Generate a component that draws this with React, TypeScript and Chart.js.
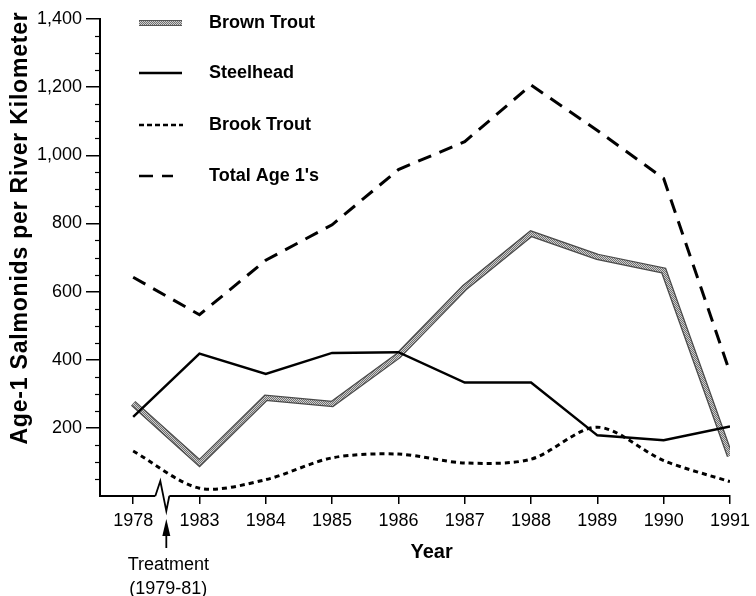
import React, { useEffect, useRef } from 'react';
import { Chart, registerables } from 'chart.js';

Chart.register(...registerables);

const years = ['1978', '1983', '1984', '1985', '1986', '1987', '1988', '1989', '1990', '1991'];
const brownTrout = [272, 97, 288, 270, 412, 612, 770, 702, 662, 118];
const steelhead = [232, 418, 358, 420, 422, 333, 333, 178, 164, 204];
const brookTrout = [132, 23, 48, 112, 123, 97, 108, 202, 104, 42];
const totalAge1 = [642, 532, 692, 796, 958, 1040, 1206, 1073, 932, 362];
const yTickValues = [200, 400, 600, 800, 1000, 1200, 1400];
const yMinorStep = 50;
const legendLabels = ['Brown Trout', 'Steelhead', 'Brook Trout', "Total Age 1's"];

const FONT = '"Liberation Sans", Arial, Helvetica, sans-serif';

function makePattern(light: string, dark: string): CanvasPattern | string {
  const pc = document.createElement('canvas');
  pc.width = 2;
  pc.height = 2;
  const c = pc.getContext('2d');
  if (!c) return '#999';
  c.fillStyle = light;
  c.fillRect(0, 0, 2, 2);
  c.fillStyle = dark;
  c.fillRect(0, 0, 1, 1);
  c.fillRect(1, 1, 1, 1);
  const ctx = document.createElement('canvas').getContext('2d');
  const p = ctx ? ctx.createPattern(pc, 'repeat') : null;
  return p || '#999';
}

export default function App() {
  const ref = useRef<HTMLCanvasElement | null>(null);

  useEffect(() => {
    if (!ref.current) return;
    const pattern = makePattern('#cfcfcf', '#6f6f6f');
    const toPts = (arr: number[]) => arr.map((v, i) => ({ x: i, y: v }));

    const decor = {
      id: 'decor',
      afterDraw(chart: any) {
        const { ctx, chartArea } = chart;
        const xs = chart.scales.x;
        const ys = chart.scales.y;
        ctx.save();
        // minor y ticks
        ctx.strokeStyle = '#000';
        ctx.lineWidth = 1.2;
        for (let v = yMinorStep; v < 1400; v += yMinorStep) {
          if (yTickValues.includes(v)) continue;
          const py = Math.round(ys.getPixelForValue(v)) + 0.5;
          ctx.beginPath();
          ctx.moveTo(chartArea.left - 5, py);
          ctx.lineTo(chartArea.left, py);
          ctx.stroke();
        }
        // axis break
        const bx = xs.getPixelForValue(0.5);
        const by = chartArea.bottom;
        ctx.fillStyle = '#fff';
        ctx.fillRect(bx - 11, by - 2, 14, 4);
        ctx.beginPath();
        ctx.lineWidth = 1.8;
        ctx.moveTo(bx - 11, by);
        ctx.lineTo(bx - 6, by - 15);
        ctx.lineTo(bx, by + 15);
        ctx.lineTo(bx + 3, by);
        ctx.stroke();
        // arrow
        ctx.beginPath();
        ctx.lineWidth = 1.8;
        ctx.moveTo(bx, by + 36);
        ctx.lineTo(bx, by + 52);
        ctx.stroke();
        ctx.beginPath();
        ctx.fillStyle = '#000';
        ctx.moveTo(bx, by + 23);
        ctx.lineTo(bx - 4, by + 40);
        ctx.lineTo(bx + 4, by + 40);
        ctx.closePath();
        ctx.fill();
        // treatment text
        ctx.fillStyle = '#000';
        ctx.textAlign = 'center';
        ctx.textBaseline = 'alphabetic';
        ctx.font = `18px ${FONT}`;
        ctx.fillText('Treatment', bx + 2, by + 74);
        ctx.fillText('(1979-81)', bx + 2, by + 98);
        // x title
        ctx.font = `bold 20px ${FONT}`;
        const xc = (xs.getPixelForValue(0) + xs.getPixelForValue(years.length - 1)) / 2;
        ctx.fillText('Year', xc, by + 62);
        // y title
        ctx.save();
        ctx.translate(21, 228);
        ctx.rotate(-Math.PI / 2);
        ctx.textBaseline = 'middle';
        ctx.font = `bold 23px ${FONT}`;
        try {
          (ctx as any).letterSpacing = '0.8px';
        } catch (e) {
          /* ignore */
        }
        ctx.fillText('Age-1 Salmonids per River Kilometer', 0, 0);
        ctx.restore();
        // legend
        const rows = [23, 73, 125, 176];
        const lx0 = 139;
        const lx1 = 182;
        ctx.textAlign = 'left';
        ctx.textBaseline = 'middle';
        ctx.font = `bold 18px ${FONT}`;
        rows.forEach((ry, i) => {
          ctx.save();
          ctx.beginPath();
          if (i === 0) {
            ctx.strokeStyle = '#555';
            ctx.lineWidth = 6;
            ctx.moveTo(lx0, ry);
            ctx.lineTo(lx1, ry);
            ctx.stroke();
            ctx.beginPath();
            ctx.strokeStyle = pattern;
            ctx.lineWidth = 4;
            ctx.moveTo(lx0, ry);
            ctx.lineTo(lx1, ry);
            ctx.stroke();
          } else if (i === 1) {
            ctx.strokeStyle = '#000';
            ctx.lineWidth = 2.5;
            ctx.moveTo(lx0, ry);
            ctx.lineTo(lx1, ry);
            ctx.stroke();
          } else if (i === 2) {
            ctx.strokeStyle = '#000';
            ctx.lineWidth = 2.5;
            ctx.setLineDash([5, 3]);
            ctx.moveTo(lx0, ry);
            ctx.lineTo(lx1 + 1, ry);
            ctx.stroke();
          } else {
            ctx.strokeStyle = '#000';
            ctx.lineWidth = 2.5;
            ctx.setLineDash([14, 9]);
            ctx.moveTo(lx0, ry);
            ctx.lineTo(lx1 - 9, ry);
            ctx.stroke();
          }
          ctx.restore();
          ctx.fillStyle = '#000';
          ctx.fillText(legendLabels[i], 209, ry);
        });
        ctx.restore();
      },
    };

    const chart = new Chart(ref.current, {
      type: 'line',
      data: {
        datasets: [
          {
            label: 'Total Age 1\'s',
            data: toPts(totalAge1),
            borderColor: '#000',
            borderWidth: 3,
            borderDash: [14, 9],
            pointRadius: 0,
            fill: false,
            tension: 0,
            order: 0,
          },
          {
            label: 'Steelhead',
            data: toPts(steelhead),
            borderColor: '#000',
            borderWidth: 2.5,
            pointRadius: 0,
            fill: false,
            tension: 0,
            order: 1,
          },
          {
            label: 'Brook Trout',
            data: toPts(brookTrout),
            borderColor: '#000',
            borderWidth: 3,
            borderDash: [5, 4],
            pointRadius: 0,
            fill: false,
            tension: 0.3,
            order: 2,
          },
          {
            label: 'Brown Trout',
            data: toPts(brownTrout),
            borderColor: pattern as any,
            borderWidth: 4,
            pointRadius: 0,
            fill: false,
            tension: 0,
            order: 3,
          },
          {
            label: 'Brown Trout outline',
            data: toPts(brownTrout),
            borderColor: '#4a4a4a',
            borderWidth: 6.5,
            pointRadius: 0,
            fill: false,
            tension: 0,
            order: 4,
          },
        ],
      },
      options: {
        responsive: false,
        animation: false,
        layout: { padding: { left: 0, right: 19, top: 19, bottom: 0 } },
        plugins: {
          legend: { display: false },
          tooltip: { enabled: false },
        },
        scales: {
          x: {
            type: 'linear',
            min: -0.5,
            max: years.length - 1,
            offset: false,
            afterFit: (s: any) => {
              s.height = 100;
            },
            afterBuildTicks: (s: any) => {
              s.ticks = years.map((_, i) => ({ value: i }));
            },
            grid: {
              display: true,
              drawOnChartArea: false,
              drawTicks: true,
              tickLength: 8,
              color: '#000',
              lineWidth: 1.5,
            },
            border: { display: true, color: '#000', width: 2 },
            ticks: {
              autoSkip: false,
              maxRotation: 0,
              padding: 6,
              color: '#000',
              font: { family: FONT, size: 18 },
              callback: (v: any) => years[v as number] ?? '',
            },
          },
          y: {
            type: 'linear',
            min: 0,
            max: 1400,
            afterFit: (s: any) => {
              s.width = 100;
            },
            afterBuildTicks: (s: any) => {
              s.ticks = yTickValues.map((v) => ({ value: v }));
            },
            grid: {
              display: true,
              drawOnChartArea: false,
              drawTicks: true,
              tickLength: 14,
              color: '#000',
              lineWidth: 1.5,
            },
            border: { display: true, color: '#000', width: 2 },
            ticks: {
              padding: 4,
              color: '#000',
              font: { family: FONT, size: 18 },
              callback: (v: any) => Number(v).toLocaleString('en-US'),
            },
          },
        },
      },
      plugins: [decor],
    });
    return () => chart.destroy();
  }, []);

  return (
    <div style={{ position: 'absolute', left: 0, top: 0, width: 756, height: 596, background: '#fff' }}>
      <canvas ref={ref} width={756} height={596} />
    </div>
  );
}
